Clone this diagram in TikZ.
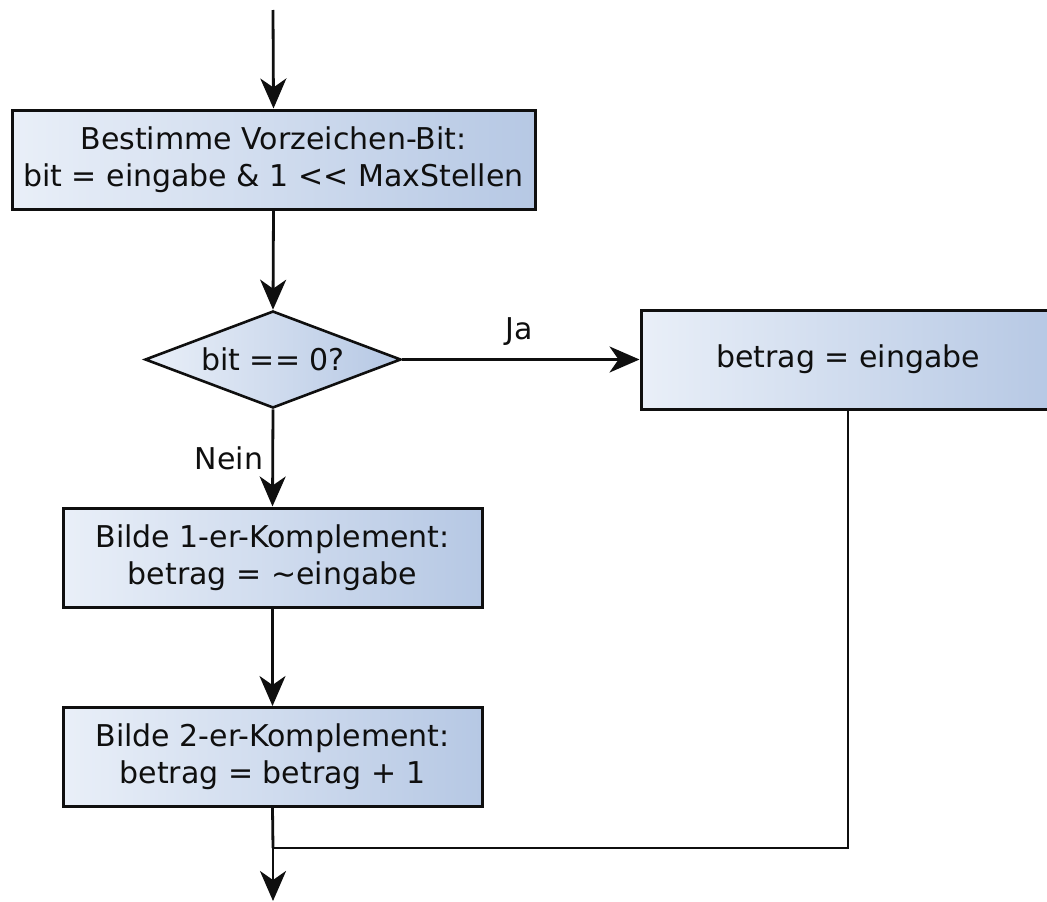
\documentclass[tikz,border=0pt]{standalone}
\usepackage{fontspec}
\setmainfont{DejaVu Sans}[Ligatures=TeXOff]
\usetikzlibrary{shapes.geometric,arrows.meta}
\definecolor{lineC}{RGB}{15,15,15}
\definecolor{gradL}{RGB}{233,239,248}
\definecolor{gradR}{RGB}{182,200,228}
\begin{document}
\begin{tikzpicture}[x=1pt,y=-1pt,
  every node/.style={font=\fontsize{30}{37}\selectfont, text=lineC},
  procbox/.style={draw=lineC, line width=3pt, left color=gradL, right color=gradR,
    align=center, inner sep=0pt, minimum height=99pt},
  decbox/.style={diamond, draw=lineC, line width=2.6pt, left color=gradL, right color=gradR,
    aspect=2.64, minimum width=256pt, minimum height=97pt, inner sep=0pt},
  flow/.style={draw=lineC, line width=2.8pt, -{Stealth[length=30pt,width=26pt,inset=9pt]}},
  plain/.style={draw=lineC, line width=2.8pt},
  lbl/.style={inner sep=0pt}
]
\useasboundingbox (0,0) rectangle (1047,902);
\clip (0,0) rectangle (1047,902);

\coordinate (start) at (273,10);
\node[procbox, minimum width=523pt] (b1) at (273.5,159.5)
  {Bestimme Vorzeichen-Bit:\\bit = eingabe \& 1 << MaxStellen};
\node[decbox] (d) at (273,359.5) {bit == 0?};
\node[procbox, minimum width=414pt] (rb) at (848,359.5) {betrag = eingabe};
\node[procbox, minimum width=419pt] (b3) at (272.5,557.5)
  {Bilde 1-er-Komplement:\\betrag = \textasciitilde eingabe};
\node[procbox, minimum width=419pt] (b4) at (272.5,757)
  {Bilde 2-er-Komplement:\\betrag = betrag + 1};
\coordinate (join) at (273,848);
\coordinate (rjoin) at (848,848);
\coordinate (finish) at (273,901);

\node[lbl] (ja) at (519,332) {Ja};
\node[lbl] (nein) at (229,458) {Nein};

\draw[flow] (start) -- (b1.north);
\draw[flow] (b1.south) -- (d.north);
\draw[flow] (d.east) -- (rb.west);
\draw[flow] (d.south) -- (b3.north);
\draw[flow] (b3.south) -- (b4.north);
\draw[plain] (rb.south) -- (rjoin) -- (join);
\draw[plain] (b4.south) -- (join);
\draw[flow] (join) -- (finish);
\end{tikzpicture}
\end{document}
